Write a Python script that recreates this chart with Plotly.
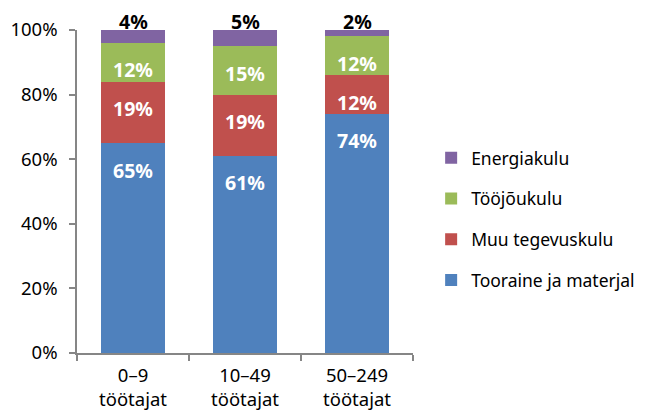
import plotly.graph_objects as go

# categories and shares (%)
categories = ["0–9<br>töötajat", "10–49<br>töötajat", "50–249<br>töötajat"]
tooraine = [65, 61, 74]
muu = [19, 19, 12]
toojou = [12, 15, 12]
energia = [4, 5, 2]

series = [
    ("Tooraine ja materjal", tooraine, "#4F81BD"),
    ("Muu tegevuskulu", muu, "#C0504D"),
    ("Tööjõukulu", toojou, "#9BBB59"),
    ("Energiakulu", energia, "#8064A2"),
]

FONT = "Noto Sans"
fig = go.Figure()

tops = [0] * len(categories)
for i, (name, vals, col) in enumerate(series):
    fig.add_trace(go.Bar(
        x=categories,
        y=vals,
        name=name,
        legendgroup=name,
        legendrank=len(series) - i,
        marker_color=col,
        marker_line_width=0,
        hoverinfo="skip",
    ))
    tops = [t + v for t, v in zip(tops, vals)]
    # labels: white ones sit a bit below the segment top, energy label above the bar
    last = name == "Energiakulu"
    for cat, top, v in zip(categories, tops, vals):
        fig.add_annotation(
            x=cat, y=top,
            text=f"{v}%",
            showarrow=False,
            yanchor="middle",
            yshift=9 if last else -27,
            font=dict(family=FONT, size=19.5, weight="bold",
                      color="black" if last else "white"),
        )

# page body has an 8px margin, so the margins are shifted by that
fig.update_layout(
    barmode="stack",
    bargap=0.43,
    width=648, height=413,
    margin=dict(l=69, r=243, t=22, b=68, autoexpand=False),
    plot_bgcolor="white",
    paper_bgcolor="white",
    font=dict(family=FONT, size=18.5, color="black"),
    showlegend=True,
    legend=dict(
        traceorder="grouped",
        x=1.054, xanchor="left",
        y=0.415, yanchor="middle",
        font=dict(size=17.5),
        tracegroupgap=15,
        itemwidth=30,
    ),
)

fig.update_yaxes(
    range=[0, 100],
    dtick=20,
    ticksuffix="%",
    showgrid=False,
    zeroline=False,
    showline=True, linecolor="#868686", linewidth=1.5,
    ticks="outside", ticklen=6, tickcolor="#868686", tickwidth=1.5,
    ticklabelstandoff=8,
)
fig.update_xaxes(
    type="category",
    tickson="boundaries",
    showgrid=False,
    showline=True, linecolor="#868686", linewidth=1.5,
    ticks="outside", ticklen=6, tickcolor="#868686", tickwidth=1.5,
    ticklabelstandoff=5,
)

fig.write_html("out.html")
